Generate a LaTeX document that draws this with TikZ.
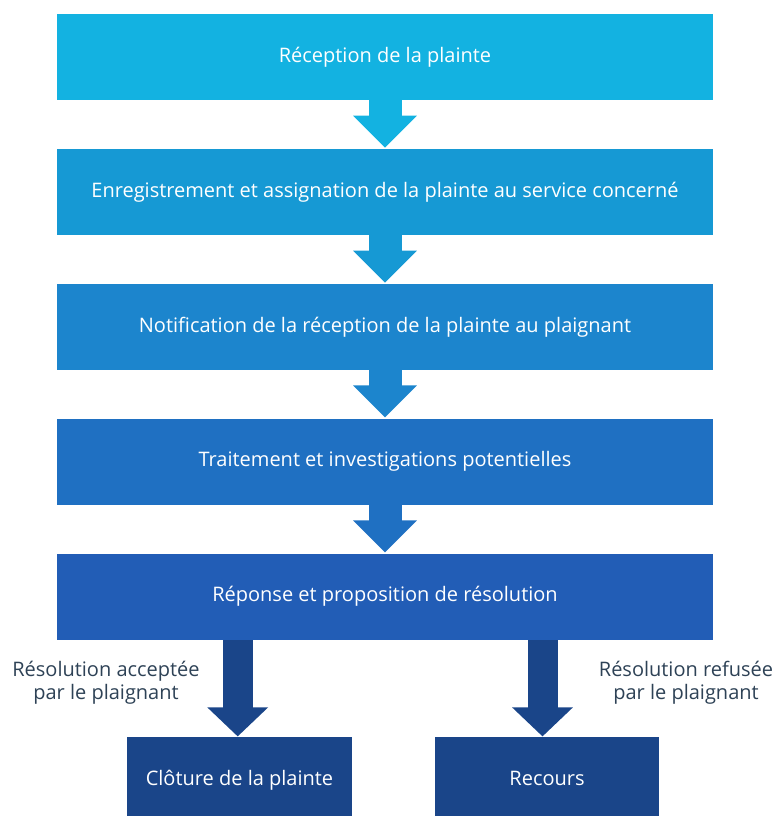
\documentclass[tikz,border=0pt]{standalone}
\usepackage{fontspec}
\setmainfont{Open Sans}
\usetikzlibrary{arrows.meta}
\definecolor{stepA}{HTML}{13B2E1}
\definecolor{stepB}{HTML}{1699D4}
\definecolor{stepC}{HTML}{1C85CD}
\definecolor{stepD}{HTML}{1F70C2}
\definecolor{stepE}{HTML}{225DB6}
\definecolor{stepF}{HTML}{1A4589}
\definecolor{labeltext}{HTML}{2E4256}
\begin{document}
\begin{tikzpicture}[x=0.75pt,y=-0.75pt,
  box/.style={rectangle,inner sep=0pt,text=white,text height=11.5pt,text depth=3.6pt,font=\fontsize{15}{18}\selectfont},
  wide/.style={box,minimum width=492pt,minimum height=64.5pt},
  small/.style={box,minimum width=168.5pt,minimum height=66pt},
  flow/.style={line width=24.75pt,shorten >=0.75pt,-{Triangle[width=46.5pt,length=24pt]}},
  branch/.style={line width=22.5pt,-{Triangle[width=44.25pt,length=21.75pt]}},
  note/.style={align=center,text=labeltext,font=\fontsize{15}{17.5}\selectfont}]
\useasboundingbox (0,0) rectangle (775,816);

\node[wide,fill=stepA] (a) at (385,57) {Réception de la plainte};
\node[wide,fill=stepB] (b) at (385,192) {Enregistrement et assignation de la plainte au service concerné};
\node[wide,fill=stepC] (c) at (385,327) {Notification de la réception de la plainte au plaignant};
\node[wide,fill=stepD] (d) at (385,461.7) {Traitement et investigations potentielles};
\node[wide,fill=stepE] (e) at (385,596.7) {Réponse et proposition de résolution};
\node[small,fill=stepF] (f) at (239.5,780.7) {Clôture de la plainte};
\node[small,fill=stepF] (g) at (547,780.7) {Recours};

\draw[flow,stepA] (a) -- (b);
\draw[flow,stepB] (b) -- (c);
\draw[flow,stepC] (c) -- (d);
\draw[flow,stepD] (d) -- (e);

\coordinate (fa) at (237.7,640);
\coordinate (ga) at (542.5,640);
\draw[branch,stepF] (fa) -- (fa |- f.north);
\draw[branch,stepF] (ga) -- (ga |- g.north);

\node[note] (p) at (106,683) {Résolution acceptée\\par le plaignant};
\node[note] (q) at (686,683) {Résolution refusée\\par le plaignant};

\end{tikzpicture}
\end{document}
